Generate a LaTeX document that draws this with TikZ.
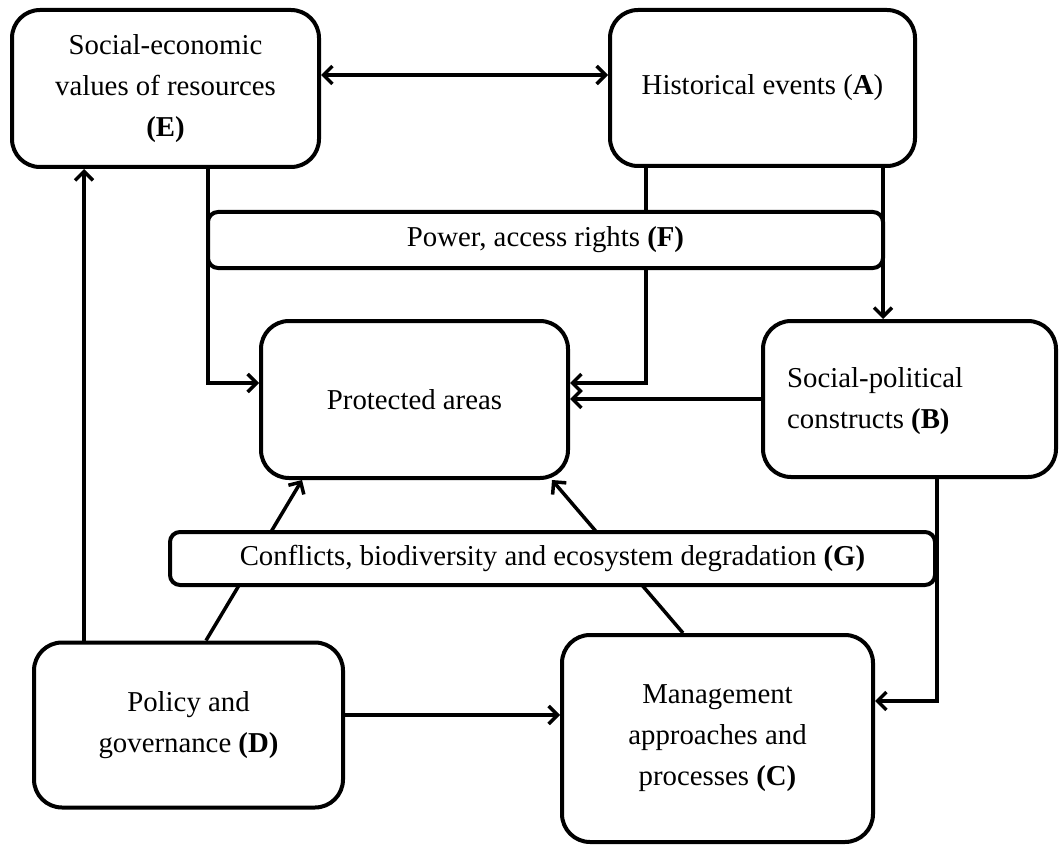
\documentclass[tikz,border=0pt]{standalone}
\usepackage{fontspec}
\setmainfont{Liberation Serif}
\usetikzlibrary{arrows.meta,calc}
\pgfdeclarelayer{bg}
\pgfsetlayers{bg,main}
\begin{document}
\begin{tikzpicture}[x=1pt,y=-1pt,
  box/.style={draw,line width=4pt,rounded corners=28pt,align=center,inner sep=0pt,
    font=\fontsize{28.8}{41}\selectfont},
  bar/.style={draw,line width=4pt,rounded corners=10pt,fill=white,align=center,inner sep=0pt,
    font=\fontsize{28.8}{41}\selectfont},
  lbl/.style={inner sep=0pt,font=\fontsize{28.8}{41}\selectfont},
  arr/.style={line width=3.5pt,-{Straight Barb[length=9pt,width=18pt]}},
  arrb/.style={line width=3.5pt,{Straight Barb[length=9pt,width=18pt]}-{Straight Barb[length=9pt,width=18pt]}},
  ln/.style={line width=3.5pt}]
\useasboundingbox (0,0) rectangle (1060,845);
\node[box,minimum width=307pt,minimum height=157pt] (E) at (165.5,88.5)
  {Social-economic\\values of resources\\\textbf{(E)}};
\node[box,minimum width=305pt,minimum height=156pt] (A) at (762.5,88)
  {Historical events (\textbf{A})};
\node[bar,minimum width=675pt,minimum height=56pt] (F) at (545.5,240)
  {Power, access rights \textbf{(F)}};
\node[box,minimum width=307pt,minimum height=157pt] (PA) at (414.5,399.5)
  {Protected areas};
\node[box,minimum width=293pt,minimum height=156pt] (B) at (909.5,399) {};
\node[lbl,align=left,anchor=west] (Bt) at (787,401)
  {Social-political\\constructs \textbf{(B)}};
\node[bar,minimum width=765pt,minimum height=53pt] (G) at (552.5,558.5)
  {Conflicts, biodiversity and ecosystem degradation \textbf{(G)}};
\node[box,minimum width=309pt,minimum height=165pt] (D) at (188.5,725)
  {Policy and\\governance \textbf{(D)}};
\node[box,minimum width=311pt,minimum height=207pt] (C) at (717.5,738.5)
  {Management\\approaches and\\processes \textbf{(C)}};
\begin{pgfonlayer}{bg}
\draw[arrb] ([yshift=13.5pt]E.east) -- ([yshift=13pt]A.west);
\draw[arr] ([xshift=42.5pt]E.south) |- ([yshift=16.5pt]PA.west);
\draw[arr] ([xshift=-116.5pt]A.south) |- ([yshift=16.5pt]PA.east);
\draw[arr] ([xshift=120.5pt]A.south) -- ([xshift=-26.5pt]B.north);
\draw[arr] (B.west) -- (B.west -| PA.east);
\draw[arr] ([xshift=27.5pt]B.south) |- ([yshift=37.5pt]C.east);
\draw[arr] ([xshift=-104.5pt]D.north) -- ([xshift=-81.5pt]E.south);
\draw[arr] ([yshift=10pt]D.east) -- ([yshift=10pt]D.east -| C.west);
\draw[arr] ([xshift=17.5pt]D.north) -- ([xshift=-112.5pt]PA.south);
\draw[arr] ([xshift=-34.5pt]C.north) -- ([xshift=137.5pt]PA.south);
\end{pgfonlayer}
\end{tikzpicture}
\end{document}
